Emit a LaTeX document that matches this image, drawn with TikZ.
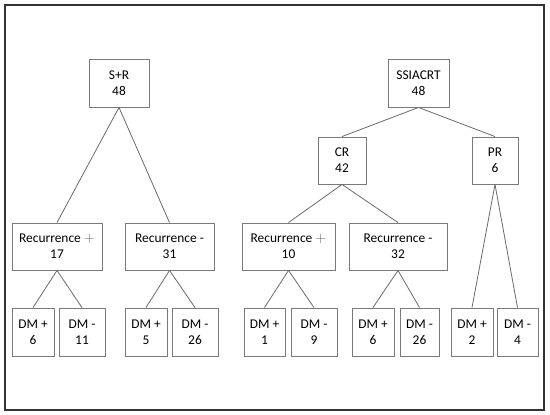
\documentclass[tikz,border=0pt]{standalone}
\usepackage{fontspec}
\setmainfont{Carlito}
\usetikzlibrary{positioning}
\definecolor{boxLine}{HTML}{7A7A7A}
\definecolor{linkLine}{HTML}{6A6A6A}
\definecolor{frameLine}{HTML}{333333}
\definecolor{plusGray}{HTML}{6A6A6A}
\newcommand{\thinplus}{\textcolor{plusGray}{$+$}}
\tikzset{
  treebox/.style={draw=boxLine, line width=0.9pt, fill=white, align=center,
    inner sep=0pt, minimum height=47pt,
    font=\fontsize{13.4}{16}\selectfont},
  dmbox/.style={treebox, minimum height=48pt},
  link/.style={draw=linkLine, line width=0.8pt}
}

\begin{document}
\begin{tikzpicture}[x=1pt, y=-1pt]
				\useasboundingbox (0,0) rectangle (550,415);
				\fill[white] (0,0) rectangle (550,415);
				\draw[frameLine, line width=1.8pt] (5,5) rectangle (544,410);

				% left tree
				\node[treebox, minimum width=60pt, minimum height=48pt] (sr) at (119,83) {S+R\\48};
				\node[treebox, minimum width=90pt] (recA) at (57,246.5) {Recurrence \thinplus\\17};
				\node[treebox, minimum width=89pt] (recB) at (169.5,246.5) {Recurrence -\\31};
				\node[dmbox, minimum width=42pt] (dmA1) at (33,332) {DM +\\6};
				\node[dmbox, minimum width=46pt] (dmA2) at (82,332) {DM -\\11};
				\node[dmbox, minimum width=42pt] (dmB1) at (146,332) {DM +\\5};
				\node[dmbox, minimum width=46pt] (dmB2) at (195,332) {DM -\\26};

				% right tree
				\node[treebox, minimum width=61pt, minimum height=48pt] (ssiacrt) at (418.5,83) {SSIACRT\\48};
				\node[treebox, minimum width=48pt] (cr) at (342,160.5) {CR\\42};
				\node[treebox, minimum width=46pt] (pr) at (495,160.5) {PR\\6};
				\node[treebox, minimum width=93pt] (recC) at (288.5,246.5) {Recurrence \thinplus\\10};
				\node[treebox, minimum width=98pt] (recD) at (398,246.5) {Recurrence -\\32};
				\node[dmbox, minimum width=41pt] (dmC1) at (264.5,332) {DM +\\1};
				\node[dmbox, minimum width=46pt] (dmC2) at (314,332) {DM -\\9};
				\node[dmbox, minimum width=42pt] (dmD1) at (373,332) {DM +\\6};
				\node[dmbox, minimum width=39pt] (dmD2) at (419.5,332) {DM -\\26};
				\node[dmbox, minimum width=42pt] (dmE1) at (472,332) {DM +\\2};
				\node[dmbox, minimum width=41pt] (dmE2) at (517.5,332) {DM -\\4};

				% links
				\draw[link] (sr.south) -- (recA.north);
				\draw[link] (sr.south) -- (recB.north);
				\draw[link] (recA.south) -- (dmA1.north);
				\draw[link] (recA.south) -- (dmA2.north);
				\draw[link] (recB.south) -- (dmB1.north);
				\draw[link] (recB.south) -- (dmB2.north);
				\draw[link] (ssiacrt.south) -- (cr.north);
				\draw[link] (ssiacrt.south) -- (pr.north);
				\draw[link] (cr.south) -- (recC.north);
				\draw[link] (cr.south) -- (recD.north);
				\draw[link] (recC.south) -- (dmC1.north);
				\draw[link] (recC.south) -- (dmC2.north);
				\draw[link] (recD.south) -- (dmD1.north);
				\draw[link] (recD.south) -- (dmD2.north);
				\draw[link] (pr.south) -- (dmE1.north);
				\draw[link] (pr.south) -- (dmE2.north);
			\end{tikzpicture}
\end{document}
